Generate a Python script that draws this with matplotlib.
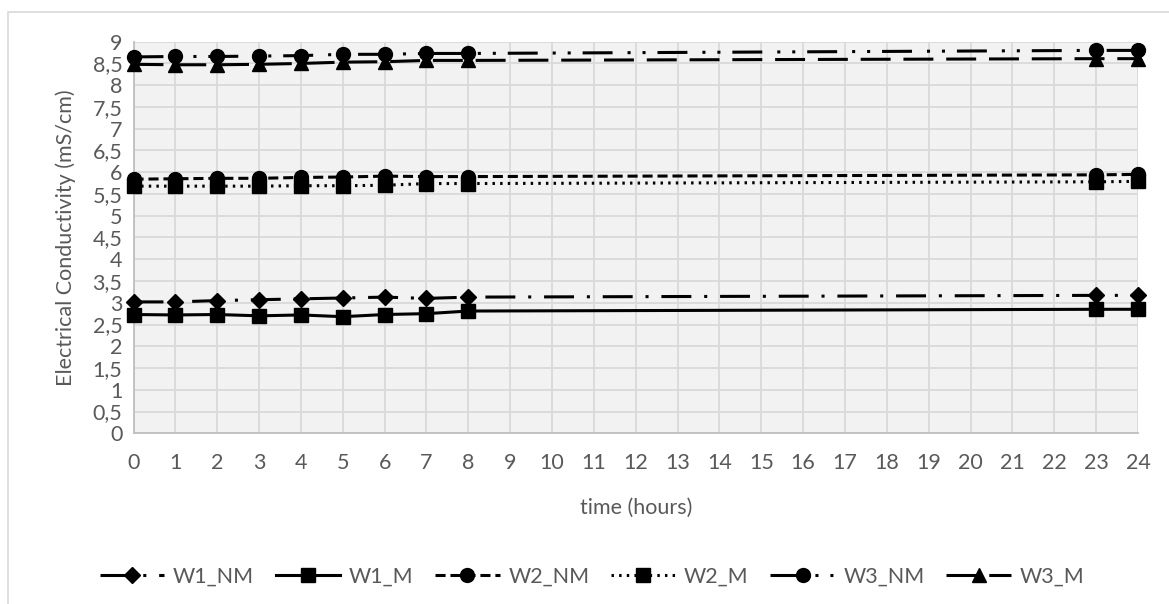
import matplotlib.pyplot as plt
from matplotlib.patches import Rectangle

plt.rcParams['font.family'] = ['Lato', 'DejaVu Sans']

# data
hours = [0, 1, 2, 3, 4, 5, 6, 7, 8, 23, 24]
w1_nm = [3.02, 3.02, 3.05, 3.07, 3.09, 3.11, 3.13, 3.10, 3.13, 3.17, 3.17]
w1_m = [2.73, 2.72, 2.73, 2.70, 2.72, 2.68, 2.73, 2.75, 2.81, 2.85, 2.85]
w2_nm = [5.84, 5.85, 5.86, 5.86, 5.88, 5.89, 5.91, 5.90, 5.90, 5.94, 5.95]
w2_m = [5.68, 5.68, 5.68, 5.68, 5.69, 5.69, 5.70, 5.74, 5.74, 5.78, 5.79]
w3_nm = [8.65, 8.66, 8.66, 8.67, 8.68, 8.71, 8.71, 8.73, 8.73, 8.80, 8.80]
w3_m = [8.48, 8.47, 8.47, 8.48, 8.50, 8.53, 8.54, 8.57, 8.57, 8.61, 8.61]

x_ticks = list(range(0, 25))
y_ticks = [i * 0.5 for i in range(19)]
y_labels = [f"{v:g}".replace(".", ",") for v in y_ticks]

series = [
    ("W1_NM", w1_nm, (0, (9.8, 4.2, 1, 4.2)), "D", 8.5),
    ("W1_M", w1_m, "-", "s", 9.5),
    ("W2_NM", w2_nm, (0, (3.3, 1.6)), "o", 10),
    ("W2_M", w2_m, (0, (0.8, 1.7)), "s", 9.5),
    ("W3_NM", w3_nm, (0, (9.8, 4.9, 1, 3.9, 1, 3.9)), "o", 10),
    ("W3_M", w3_m, (0, (9.8, 4.2)), "^", 10),
]

gray = "#595959"
fs = 15.5
fig = plt.figure(figsize=(11.69, 6.04), dpi=100)
fig.patches.append(Rectangle((8 / 1169, -0.1), 1.2, 1 - 12 / 604 + 0.1,
                             transform=fig.transFigure, fill=False,
                             edgecolor="#d9d9d9", lw=1.2))
ax = fig.add_axes([133.5 / 1169, 1 - 433.3 / 604, (1138 - 133.5) / 1169, (433.3 - 41.7) / 604])
ax.set_facecolor("#f2f2f2")

for name, vals, ls, mk, ms in series:
    ax.plot(hours, vals, color="black", lw=2.2, linestyle=ls, marker=mk,
            markersize=ms, label=name, clip_on=False, zorder=3)

ax.set_xlim(0, 24)
ax.set_ylim(0, 9)
ax.set_xticks(x_ticks)
ax.set_yticks(y_ticks)
ax.set_yticklabels(y_labels)
ax.grid(True, color="#d9d9d9", lw=1.3)
ax.set_axisbelow(True)
ax.tick_params(length=0, labelsize=fs, colors=gray, pad=8)
ax.tick_params(axis="x", pad=14)
for s in ["top", "right"]:
    ax.spines[s].set_visible(False)
for s in ["left", "bottom"]:
    ax.spines[s].set_color("#bfbfbf")
    ax.spines[s].set_linewidth(1.3)

ax.set_xlabel("time (hours)", fontsize=fs, color=gray, labelpad=18)
ax.set_ylabel("Electrical Conductivity (mS/cm)", fontsize=fs, color=gray, labelpad=12)

ax.legend(loc="center", bbox_to_anchor=(592 / 1169, (604 - 577) / 604), bbox_transform=fig.transFigure,
          ncol=6, frameon=False, fontsize=fs, handlelength=3.0, columnspacing=1.0,
          handletextpad=0.4, labelcolor=gray)

fig.savefig("out.png", dpi=100, facecolor="white")
